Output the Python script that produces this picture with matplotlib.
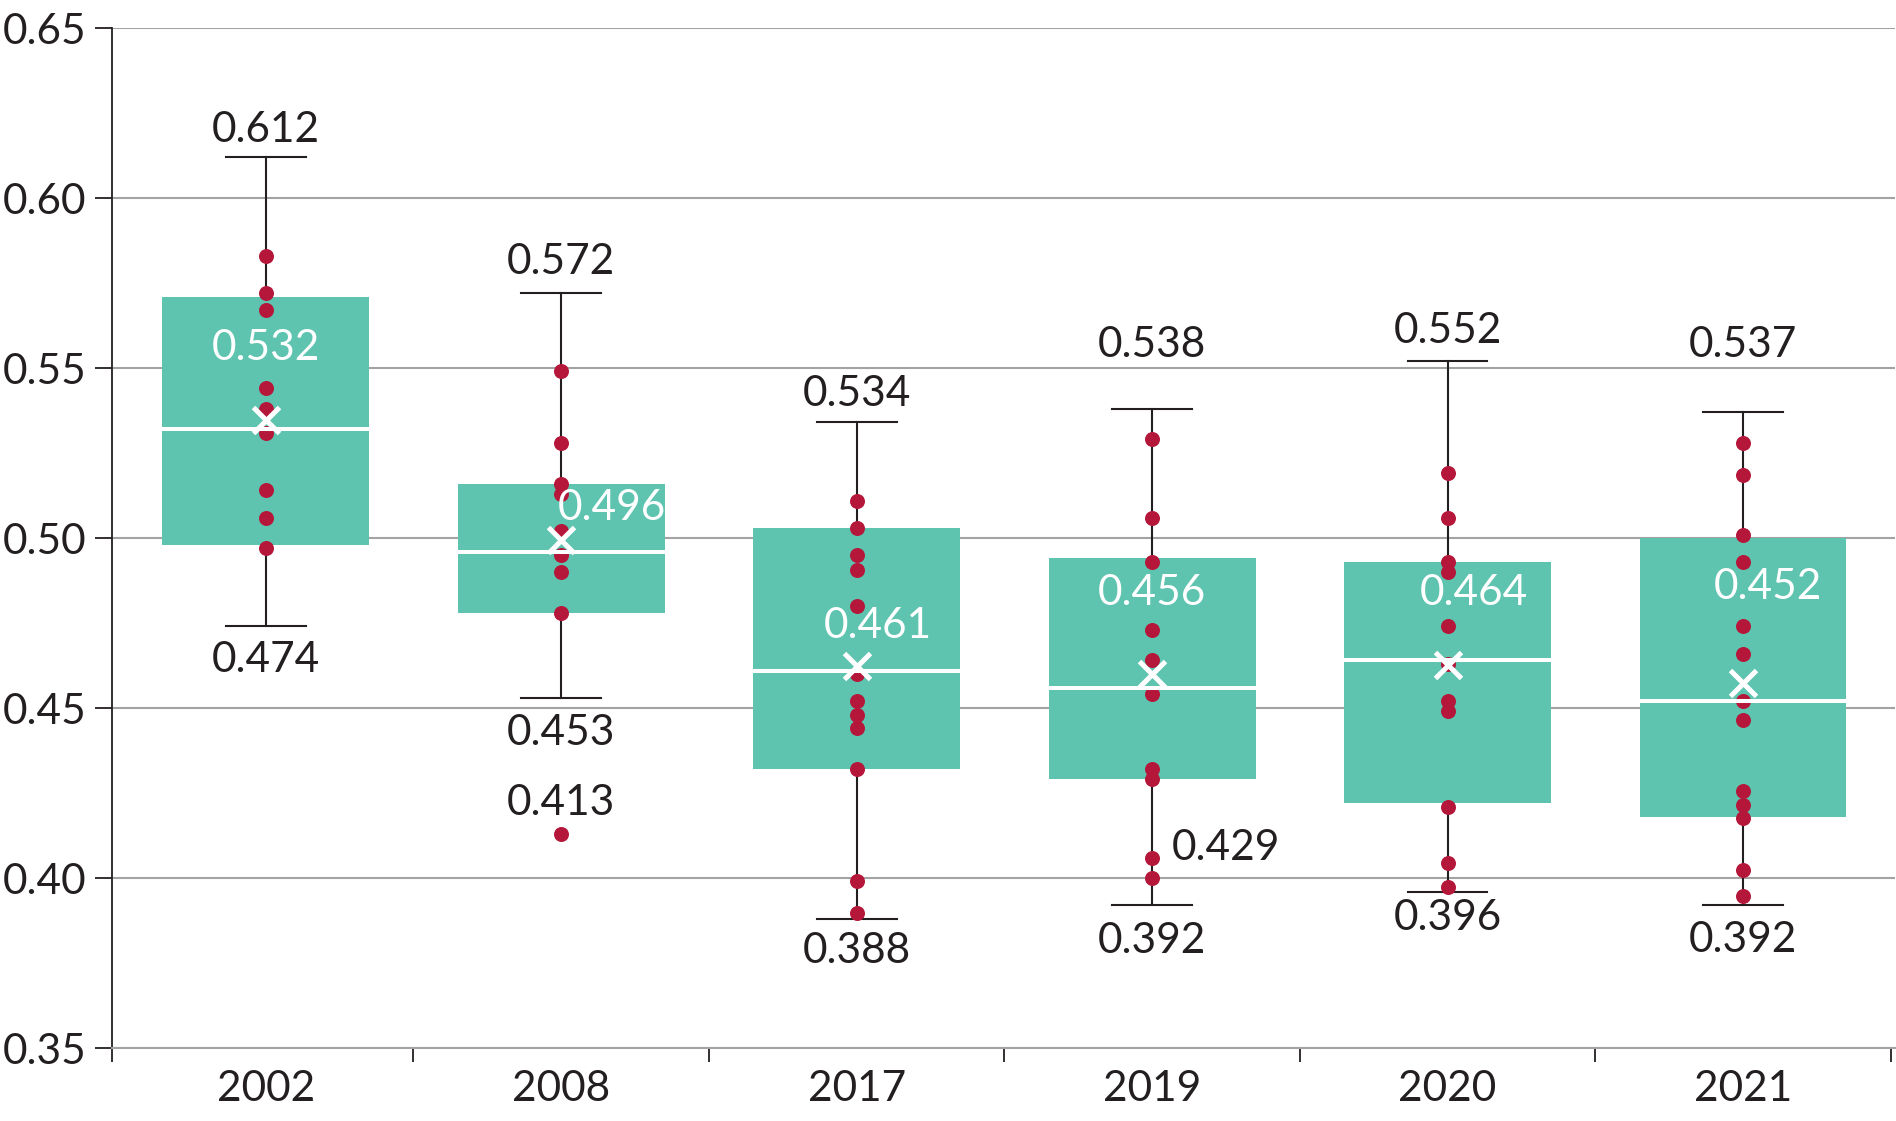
import numpy as np
import matplotlib
matplotlib.use("Agg")
import matplotlib.pyplot as plt
from matplotlib.ticker import FixedLocator, NullFormatter

plt.rcParams['font.family'] = ['Lato', 'DejaVu Sans']

# data
years = ["2002", "2008", "2017", "2019", "2020", "2021"]
q1 = [0.498, 0.478, 0.432, 0.429, 0.422, 0.418]
q3 = [0.571, 0.516, 0.503, 0.494, 0.493, 0.500]
medians = [0.532, 0.496, 0.461, 0.456, 0.464, 0.452]
means = [0.5347, 0.4993, 0.4625, 0.4599, 0.4626, 0.4575]
whis_hi = [0.612, 0.572, 0.534, 0.538, 0.552, 0.537]
whis_lo = [0.474, 0.453, 0.388, 0.392, 0.396, 0.392]
outlier_2008 = 0.413

points = [
    [0.583, 0.572, 0.567, 0.544, 0.538, 0.531, 0.514, 0.506, 0.497],
    [0.549, 0.528, 0.516, 0.513, 0.502, 0.495, 0.490, 0.478, 0.413],
    [0.511, 0.503, 0.495, 0.4905, 0.480, 0.460, 0.452, 0.448, 0.444, 0.432, 0.399, 0.3896],
    [0.529, 0.506, 0.493, 0.473, 0.464, 0.454, 0.432, 0.429, 0.406, 0.400],
    [0.519, 0.506, 0.493, 0.490, 0.474, 0.463, 0.452, 0.449, 0.421, 0.4045, 0.3975],
    [0.528, 0.5185, 0.501, 0.493, 0.474, 0.466, 0.452, 0.4465, 0.4255, 0.4214, 0.4176, 0.4025, 0.3946],
]

# label placement (y in data units, x offset in category units)
hi_label_y = [0.6201, 0.5811, 0.5423, 0.5567, 0.5608, 0.5567]
lo_label_y = [0.464, 0.4428, 0.3786, 0.3815, 0.3883, 0.3817]
med_label_y = [0.5558, 0.5088, 0.474, 0.4839, 0.4839, 0.4855]
med_label_dx = [0.0, 0.17, 0.07, 0.0, 0.09, 0.085]

TEAL = "#5EC4B0"
RED = "#B5173A"
INK = "#231F20"
GRID = "#A3A3A3"
FS = 30.5

fig = plt.figure(figsize=(18.96, 11.21), dpi=100)
ax = fig.add_axes([0.0591, 0.0651, 0.9405, 0.9099])

stats = []
for i in range(len(years)):
    stats.append(dict(med=medians[i], q1=q1[i], q3=q3[i], whislo=whis_lo[i],
                      whishi=whis_hi[i], mean=means[i], fliers=[]))

pos = np.arange(len(years))
bp = ax.bxp(stats, positions=pos, widths=0.70, patch_artist=True, showmeans=True,
            showfliers=False,
            boxprops=dict(facecolor=TEAL, edgecolor=TEAL, linewidth=0),
            whiskerprops=dict(color=INK, linewidth=1.5),
            capprops=dict(color=INK, linewidth=1.5),
            capwidths=0.27,
            medianprops=dict(color="white", linewidth=2.9),
            meanprops=dict(marker="x", markeredgecolor="white", markersize=19,
                           markeredgewidth=3.6))
for b in bp['boxes']:
    b.set_zorder(2)
for w in bp['whiskers'] + bp['caps']:
    w.set_zorder(2.5)
for m in bp['medians']:
    m.set_zorder(4)
for m in bp['means']:
    m.set_zorder(5)

for i, pts in enumerate(points):
    ax.plot(np.full(len(pts), pos[i]), pts, 'o', color=RED, markersize=10.8,
            markeredgewidth=0, zorder=3)

for i in range(len(years)):
    ax.text(pos[i], hi_label_y[i], "%.3f" % whis_hi[i], ha='center', va='center',
            fontsize=FS, color=INK, zorder=6)
    ax.text(pos[i], lo_label_y[i], "%.3f" % whis_lo[i], ha='center', va='center',
            fontsize=FS, color=INK, zorder=6)
    ax.text(pos[i] + med_label_dx[i], med_label_y[i], "%.3f" % medians[i],
            ha='center', va='center', fontsize=FS, color='white', zorder=6)

ax.text(pos[1], 0.4222, "%.3f" % outlier_2008, ha='center', va='center',
        fontsize=FS, color=INK, zorder=6)
ax.text(pos[3] + 0.068, 0.4089, "%.3f" % q1[3], ha='left', va='center',
        fontsize=FS, color=INK, zorder=6)

x_left = -0.52
ax.set_xlim(x_left, 5.515)
ax.set_ylim(0.35, 0.65)
ax.set_yticks(np.arange(0.35, 0.651, 0.05))
ax.set_yticklabels(["%.2f" % v for v in np.arange(0.35, 0.651, 0.05)])
ax.yaxis.grid(True, color=GRID, linewidth=1.5)
ax.set_axisbelow(True)

ax.xaxis.set_major_locator(FixedLocator([x_left] + list(np.arange(0.5, 5.6, 1.0))))
ax.xaxis.set_major_formatter(NullFormatter())
ax.set_xticks(pos, minor=True)
ax.set_xticklabels(years, minor=True)
ax.tick_params(axis='x', which='major', length=10, width=1.3, color=INK)
ax.tick_params(axis='x', which='minor', length=0, pad=16, labelsize=FS, labelcolor=INK)
ax.tick_params(axis='y', length=12.5, width=1.3, color=INK, pad=6,
               labelsize=FS, labelcolor=INK)

for s in ['top', 'right']:
    ax.spines[s].set_visible(False)
ax.spines['left'].set_color(INK)
ax.spines['left'].set_linewidth(1.3)
ax.spines['bottom'].set_color(GRID)
ax.spines['bottom'].set_linewidth(1.5)

fig.savefig("out.png", dpi=100)
